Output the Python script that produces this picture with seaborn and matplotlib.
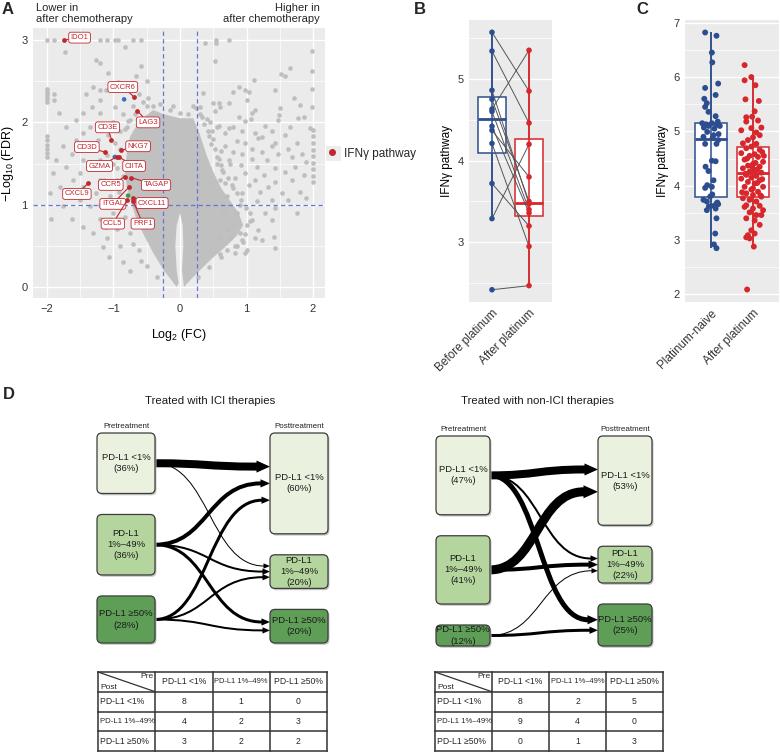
import matplotlib

matplotlib.use("Agg")
import matplotlib.pyplot as plt
import numpy as np
import pandas as pd
import seaborn as sns
from matplotlib.lines import Line2D
from matplotlib.patches import FancyBboxPatch, PathPatch, Polygon, Rectangle
from matplotlib.path import Path

# -----------------------------
# Panel A: volcano plot
# -----------------------------
# sparse grey genes, (log2 FC, -log10 FDR)
bg_left = [
    (-2.00, 3.00), (-1.90, 3.00), (-1.21, 3.00), (-1.10, 3.00), (-0.98, 3.00), (-0.93, 3.00),
    (-0.70, 3.00), (-0.58, 3.00), (-1.73, 2.86), (-0.83, 2.92), (-1.27, 2.76), (-1.21, 2.72),
    (-0.58, 2.68), (-1.08, 2.60), (-0.66, 2.56), (-0.93, 2.49), (-1.31, 2.43), (-1.21, 2.39),
    (-1.11, 2.39), (-1.89, 2.35), (-1.41, 2.35), (-1.90, 2.27), (-1.21, 2.27), (-0.98, 2.19),
    (-1.33, 2.19), (-1.82, 2.11), (-1.21, 2.11), (-1.46, 2.11), (-1.56, 2.03), (-0.75, 2.03),
    (-1.71, 1.95), (-1.36, 1.95), (-1.46, 1.87), (-1.56, 1.79), (-1.23, 1.79), (-1.76, 1.71),
    (-1.36, 1.71), (-1.63, 1.62), (-1.86, 1.54), (-1.46, 1.54), (-1.21, 1.54), (-1.71, 1.46),
    (-1.31, 1.46), (-1.91, 1.38), (-1.51, 1.38), (-1.61, 1.30), (-1.21, 1.30), (-1.81, 1.22),
    (-1.46, 1.22), (-1.96, 1.14), (-1.66, 1.14), (-1.26, 1.14), (-1.51, 1.06), (-1.76, 0.98),
    (-1.36, 0.98), (-1.94, 0.83), (-1.63, 0.83), (-1.21, 0.83), (-1.46, 0.73), (-1.11, 0.73),
    (-1.31, 0.65), (-1.16, 0.49), (-1.06, 0.37),
    (-2.00, 2.25), (-2.00, 2.28), (-2.00, 2.31), (-2.00, 2.34), (-2.00, 2.37), (-2.00, 2.40),
    (-2.00, 1.58), (-2.00, 1.63), (-2.00, 1.68), (-2.00, 1.73), (-2.00, 1.78), (-2.00, 1.83),
    (-0.90, 0.50), (-0.95, 0.70), (-1.00, 0.90), (-1.05, 1.10), (-0.95, 1.30), (-1.00, 1.50),
    (-0.90, 1.90), (-1.10, 1.60), (-1.15, 1.30), (-0.85, 2.10), (-0.70, 2.20), (-0.55, 2.25),
    (-1.00, 2.00), (-1.20, 1.00), (-0.85, 0.30), (-0.75, 0.20), (-1.10, 0.60), (-0.92, 1.15),
    (-0.88, 0.80), (-0.98, 1.75), (-1.08, 1.85), (-0.80, 1.95), (-0.62, 2.35), (-0.48, 2.30),
    (-0.40, 2.20), (-0.78, 2.45), (-0.50, 2.50),
    (-0.15, 2.15), (0.00, 2.12), (0.12, 2.10), (0.20, 2.20),
    # scattered genes along the rim of the dense cloud
    (-0.35, 0.12), (-0.50, 0.25), (-0.62, 0.45), (-0.75, 0.65), (-0.82, 0.85), (-0.88, 0.98),
    (-0.92, 1.22), (-0.95, 1.45), (-0.90, 1.68), (-0.82, 1.92), (-0.68, 2.10), (-0.50, 2.20),
    (-0.30, 2.22), (-0.10, 2.20), (-0.58, 0.32), (-0.70, 0.52), (-0.86, 1.35), (-0.78, 2.02),
]
bg_right = [
    (0.38, 2.97), (0.54, 3.00), (0.54, 2.97), (0.73, 3.00), (0.53, 2.74), (1.99, 2.87),
    (1.66, 2.66), (1.52, 2.59), (1.58, 2.56), (1.99, 2.63), (1.12, 2.51), (0.88, 2.43),
    (0.98, 2.39), (1.03, 2.37), (0.35, 2.36), (1.43, 2.39), (1.99, 2.41), (1.71, 2.30),
    (0.80, 2.37), (1.01, 2.27), (0.49, 2.23), (0.58, 2.24), (0.60, 2.19), (0.73, 2.24),
    (0.24, 2.18), (0.30, 2.19), (1.99, 2.19), (1.51, 2.18), (1.13, 2.15), (1.81, 2.21),
    (0.53, 2.14), (1.08, 2.11), (0.88, 2.07), (0.33, 2.07), (0.40, 2.04), (1.86, 2.07),
    (1.06, 2.04), (1.78, 2.05), (1.49, 2.09), (0.98, 2.02), (1.48, 2.03), (0.58, 1.96),
    (0.80, 1.95), (0.73, 1.93), (1.28, 1.96), (1.66, 1.95), (1.96, 1.93), (0.48, 1.89),
    (0.68, 1.87), (0.93, 1.89), (1.13, 1.87), (1.38, 1.89), (1.58, 1.85), (1.18, 1.81),
    (1.23, 1.82), (0.43, 1.83), (0.85, 1.77), (0.98, 1.75), (1.43, 1.75), (1.76, 1.75),
    (0.68, 1.71), (1.08, 1.68), (1.38, 1.71), (1.63, 1.68), (0.80, 1.64), (0.93, 1.62),
    (1.23, 1.64), (1.48, 1.62), (1.83, 1.62), (0.55, 1.58), (0.73, 1.54), (1.08, 1.56),
    (1.31, 1.54), (1.68, 1.58), (1.89, 1.52), (0.91, 1.48), (1.16, 1.46), (1.43, 1.44),
    (1.73, 1.46), (0.63, 1.42), (0.98, 1.38), (1.26, 1.36), (1.58, 1.40), (1.86, 1.36),
    (0.83, 1.32), (1.13, 1.30), (1.43, 1.28), (1.68, 1.30), (0.68, 1.26), (1.03, 1.24),
    (1.33, 1.22), (1.21, 1.16), (1.53, 1.14), (0.93, 1.14), (1.81, 1.16), (1.38, 1.06),
    (1.16, 1.04), (1.63, 1.06), (1.89, 1.08), (1.43, 0.96), (1.76, 0.90), (1.28, 0.90),
    (1.08, 0.81), (1.38, 0.81), (1.18, 0.69), (1.41, 0.61), (1.43, 0.47), (1.01, 0.45),
    (0.93, 0.57), (1.13, 0.59), (1.23, 0.57), (0.98, 0.41), (0.83, 0.41),
    (2.00, 1.27), (2.00, 1.35), (2.00, 1.43), (2.00, 1.51), (2.00, 1.59), (2.00, 1.67),
    (2.00, 1.75), (2.00, 1.83), (2.00, 1.91),
    (0.60, 0.60), (0.70, 0.70), (0.75, 0.60), (0.80, 0.75), (0.65, 0.90), (0.85, 0.90),
    (0.90, 1.00), (0.70, 1.10), (0.80, 1.20), (0.60, 1.30), (0.90, 0.65), (0.55, 1.50),
    (0.62, 1.65), (0.50, 1.80), (0.45, 2.00), (0.55, 1.95), (0.65, 1.40), (0.75, 1.50),
    (0.85, 0.50), (0.95, 0.55), (1.00, 0.75), (1.05, 0.90), (0.70, 0.45), (0.60, 0.40),
    # scattered genes along the rim of the dense cloud
    (0.30, 2.10), (0.42, 1.90), (0.52, 1.68), (0.62, 1.48), (0.72, 1.32), (0.86, 1.14),
    (0.99, 0.96), (1.05, 0.80), (0.97, 0.64), (0.82, 0.50), (0.62, 0.36), (0.44, 0.24),
    (0.27, 0.12), (0.36, 1.98), (0.46, 1.74), (0.58, 1.56), (0.78, 1.24), (0.92, 1.06),
]
# outline of the solid, over-plotted cloud of genes around the origin
dense_fc = [-0.02, -0.05, -0.25, -0.40, -0.53, -0.65, -0.73, -0.80, -0.83, -0.80, -0.75, -0.60,
            -0.40, -0.25, 0.00, 0.20, 0.30, 0.40, 0.50, 0.62, 0.75, 0.88, 0.95, 0.85, 0.70,
            0.50, 0.32, 0.15, 0.06, 0.03, 0.05, 0.04, 0.00, -0.05, -0.07, -0.05]
dense_nl = [0.05, 0.00, 0.21, 0.41, 0.61, 0.81, 1.02, 1.22, 1.42, 1.62, 1.83, 2.03,
            2.15, 2.10, 2.05, 2.05, 1.85, 1.60, 1.40, 1.20, 1.05, 0.90, 0.75, 0.62, 0.50,
            0.36, 0.22, 0.08, 0.00, 0.20, 0.50, 0.75, 0.90, 0.75, 0.50, 0.20]

genes = ["IDO1", "CXCR6", "LAG3", "CD3E", "CD3D", "NKG7", "GZMA", "CIITA",
         "CCR5", "TAGAP", "CXCL9", "ITGAL", "CXCL11", "CCL5", "PRF1"]
gene_fc = [-1.74, -0.69, -0.64, -1.03, -1.13, -0.89, -0.95, -0.92,
           -0.83, -0.74, -1.38, -0.76, -0.70, -0.79, -0.71]
gene_nl = [3.00, 2.31, 2.14, 1.79, 1.64, 1.66, 1.58, 1.58,
           1.34, 1.33, 1.26, 1.22, 1.08, 1.06, 1.05]
other_fc = [-0.84, -0.98, -0.78]
other_nl = [2.28, 1.58, 1.11]

# -----------------------------
# Panel B: paired samples
# -----------------------------
b_cats = ["Before platinum", "After platinum"]
b_before = [5.57, 5.34, 4.86, 4.75, 4.63, 4.60, 4.42, 4.37, 4.21, 3.72, 3.29, 2.42]
b_after = [4.85, 4.46, 3.47, 3.50, 5.35, 3.40, 3.36, 3.80, 2.95, 3.20, 4.20, 2.47]

# -----------------------------
# Panel C: unpaired samples (value, horizontal jitter)
# -----------------------------
c_cats = ["Platinum-naive", "After platinum"]
c_naive = [
    (6.82, -0.14), (6.76, 0.13), (6.45, 0.02), (6.27, 0.03), (5.88, 0.17), (5.80, -0.14),
    (5.67, 0.11), (5.60, -0.16), (5.52, -0.10), (5.45, -0.14), (5.36, -0.06), (5.28, 0.11),
    (5.15, -0.21), (5.15, 0.02), (5.12, 0.13), (5.10, -0.06), (5.07, -0.17), (5.10, 0.21),
    (5.18, 0.16), (5.13, -0.12), (5.05, 0.08), (4.99, -0.09), (4.95, 0.18), (4.93, 0.06),
    (4.90, -0.18), (4.88, 0.04), (4.84, 0.17), (4.77, -0.14), (4.77, 0.13), (4.46, 0.02),
    (4.45, 0.11), (4.35, -0.13), (4.27, -0.06), (4.10, 0.06), (4.01, -0.09), (3.98, 0.02),
    (3.96, -0.14), (3.84, 0.03), (3.80, -0.02), (3.74, -0.18), (3.71, -0.10), (3.69, 0.15),
    (3.67, 0.13), (3.66, 0.17), (3.63, 0.07), (3.62, -0.05), (3.58, 0.11), (3.55, -0.10),
    (3.40, 0.13), (3.12, 0.10), (2.92, 0.07), (2.85, 0.13),
]
c_after = [
    (6.22, -0.20), (6.00, -0.04), (5.94, -0.20), (5.85, 0.06), (5.59, -0.18), (5.56, 0.14),
    (5.37, 0.04), (5.27, -0.02), (5.26, -0.16), (5.20, 0.12), (5.18, -0.16), (5.07, 0.20),
    (5.06, -0.04), (5.02, -0.28), (4.98, 0.08), (4.93, 0.16), (4.89, 0.00), (4.84, -0.12),
    (4.78, -0.24), (4.77, 0.08), (4.72, -0.04), (4.69, -0.16), (4.66, 0.16), (4.62, 0.22),
    (4.60, -0.28), (4.58, 0.04), (4.55, -0.08), (4.55, 0.26), (4.53, 0.12), (4.50, -0.14),
    (4.48, -0.20), (4.44, 0.24), (4.42, 0.06), (4.40, 0.00), (4.37, -0.12), (4.35, 0.16),
    (4.35, -0.02), (4.32, -0.24), (4.30, 0.10), (4.29, 0.04), (4.26, -0.08), (4.24, 0.20),
    (4.22, -0.18), (4.20, -0.16), (4.18, 0.08), (4.15, -0.04), (4.13, -0.28), (4.12, 0.22),
    (4.10, 0.16), (4.07, -0.12), (4.05, 0.10), (4.04, 0.04), (3.98, -0.20), (3.98, 0.24),
    (3.95, 0.00), (3.93, -0.04), (3.89, 0.12), (3.88, -0.26), (3.86, -0.16), (3.83, 0.00),
    (3.82, 0.18), (3.80, 0.20), (3.77, -0.24), (3.74, -0.08), (3.71, 0.08), (3.64, -0.16),
    (3.63, 0.16), (3.61, -0.20), (3.58, 0.00), (3.55, 0.24), (3.51, -0.08), (3.46, 0.08),
    (3.46, 0.20), (3.40, -0.16), (3.36, 0.04), (3.28, 0.16), (3.18, -0.04), (3.12, 0.04),
    (3.09, -0.12), (3.05, -0.16), (3.03, -0.08), (2.88, 0.02), (2.09, -0.14),
]

# -----------------------------
# Panel D: PD-L1 transitions (rows as printed in the tables)
# -----------------------------
pdl1_levels = ["PD-L1 <1%", "PD-L1 1%\u201349%", "PD-L1 \u226550%"]
pdl1_box_labels = ["PD-L1 <1%", "PD-L1\n1%\u201349%", "PD-L1 \u226550%"]
ici_counts = [[8, 1, 0], [4, 2, 3], [3, 2, 2]]
nonici_counts = [[8, 2, 5], [9, 4, 0], [0, 1, 3]]

# -----------------------------
# Style
# -----------------------------
GREY = "#BEBEBE"
GENE_RED = "#C0282D"
BLUE = "#2C4E8F"
RED = "#D7262C"
BOX_COLORS = ["#EBF1DF", "#B5D59F", "#5E9E56"]
INK = "#333333"
W, H = 780, 752

sns.set_theme(
    style="darkgrid",
    rc={
        "axes.facecolor": "#EBEBEB",
        "axes.edgecolor": "#EBEBEB",
        "grid.color": "white",
        "grid.linewidth": 1.0,
        "xtick.major.size": 2.5,
        "ytick.major.size": 2.5,
        "xtick.color": INK,
        "ytick.color": INK,
        "axes.labelcolor": "black",
    },
)
plt.rcParams["font.family"] = ["Liberation Sans", "DejaVu Sans"]
plt.rcParams["mathtext.fontset"] = "custom"
plt.rcParams["mathtext.rm"] = "Liberation Sans"
plt.rcParams["mathtext.it"] = "Liberation Sans:italic"

fig = plt.figure(figsize=(W / 100, H / 100), dpi=100)


def px_axes(left, top, right, bottom, **kw):
    return fig.add_axes([left / W, 1 - bottom / H, (right - left) / W, (bottom - top) / H], **kw)


def gg_axes(ax, labelsize=8):
    for s in ax.spines.values():
        s.set_visible(False)
    ax.tick_params(which="major", labelsize=labelsize, length=2.5, width=0.6, pad=1.5, colors=INK)
    ax.tick_params(which="minor", length=0)
    ax.grid(which="minor", color="white", linewidth=0.5)
    ax.set_axisbelow(True)


# -----------------------------
# A
# -----------------------------
axA = px_axes(33, 28, 325, 298)
axA.fill(dense_fc, dense_nl, color="#C0C0C0", lw=0, zorder=1.5)
bl_fc, bl_nl = zip(*bg_left)
br_fc, br_nl = zip(*bg_right)
sns.scatterplot(x=list(bl_fc) + list(br_fc), y=list(bl_nl) + list(br_nl), color=GREY,
                s=11, linewidth=0, ax=axA, zorder=2)
for v in (-0.25, 0.25):
    axA.axvline(v, color="#6675D8", ls=(0, (3.5, 2.5)), lw=0.9, zorder=3)
axA.axhline(1, color="#6675D8", ls=(0, (3.5, 2.5)), lw=0.9, zorder=3)
sns.scatterplot(x=other_fc, y=other_nl, hue=["a", "a", "b"], palette={"a": "#3A6FC4", "b": "#3E9A4A"},
                s=11, linewidth=0, legend=False, ax=axA, zorder=4)
sns.scatterplot(x=gene_fc, y=gene_nl, color=GENE_RED, s=12, linewidth=0, ax=axA, zorder=5)

label_xy = {
    "IDO1": (-1.51, 3.03), "CXCR6": (-0.86, 2.43), "LAG3": (-0.48, 2.00), "CD3E": (-1.09, 1.94),
    "CD3D": (-1.40, 1.70), "NKG7": (-0.63, 1.71), "GZMA": (-1.21, 1.47), "CIITA": (-0.69, 1.47),
    "CCR5": (-1.04, 1.24), "TAGAP": (-0.36, 1.24), "CXCL9": (-1.55, 1.13), "ITGAL": (-1.01, 1.01),
    "CXCL11": (-0.42, 1.02), "CCL5": (-1.01, 0.77), "PRF1": (-0.56, 0.77),
}
for g, fc, nl in zip(genes, gene_fc, gene_nl):
    axA.annotate(
        g, xy=(fc, nl), xytext=label_xy[g], textcoords="data", ha="center", va="center",
        fontsize=5.5, color=GENE_RED, zorder=6,
        bbox=dict(boxstyle="round,pad=0.25,rounding_size=0.3", fc="white", ec=GENE_RED, lw=0.6),
        arrowprops=dict(arrowstyle="-", color=GENE_RED, lw=0.8, shrinkA=0, shrinkB=1),
    )

axA.set_xlim(-2.21, 2.18)
axA.set_ylim(-0.134, 3.147)
axA.set_xticks([-2, -1, 0, 1, 2])
axA.set_xticks([-1.5, -0.5, 0.5, 1.5], minor=True)
axA.set_yticks([0, 1, 2, 3])
axA.set_yticks([0.5, 1.5, 2.5], minor=True)
gg_axes(axA)
axA.set_xlabel("Log$_2$ (FC)", fontsize=9, labelpad=10)
axA.set_ylabel("\u2212Log$_{10}$ (FDR)", fontsize=9, labelpad=4)

fig.text(36 / W, 1 - 3 / H, "Lower in\nafter chemotherapy", ha="left", va="top", fontsize=8, linespacing=1.15)
fig.text(320 / W, 1 - 3 / H, "Higher in\nafter chemotherapy", ha="right", va="top", fontsize=8,
         linespacing=1.15, multialignment="right")

fig.patches.append(Rectangle((326 / W, 1 - 161 / H), 15 / W, 15 / H, transform=fig.transFigure,
                             fc="#EDEDED", ec="none", zorder=1))
fig.legend(handles=[Line2D([0], [0], marker="o", ls="", color=GENE_RED, markersize=4)],
           labels=["IFN\u03b3 pathway"], loc="center left", bbox_to_anchor=(325 / W, 1 - 153.5 / H),
           frameon=False, fontsize=8.5, handlelength=1.2, handletextpad=0.4, borderaxespad=0,
           borderpad=0)


def whisker_range(values):
    v = np.asarray(values)
    q1, q3 = np.percentile(v, [25, 75])
    iqr = q3 - q1
    return v[v >= q1 - 1.5 * iqr].min(), v[v <= q3 + 1.5 * iqr].max()


def draw_boxes(ax, df, cats, colors):
    for cat, col in zip(cats, colors):
        sns.boxplot(data=df[df.group == cat], x="group", y="value", order=cats, color="white",
                    linecolor=col, linewidth=1.1, width=0.78, showcaps=False, showfliers=False,
                    medianprops={"linewidth": 2.0}, ax=ax, zorder=2)
        lo, hi = whisker_range(df.loc[df.group == cat, "value"])
        ax.vlines(cats.index(cat), lo, hi, color=col, lw=1.1, zorder=2.5)


# -----------------------------
# B
# -----------------------------
axB = px_axes(469, 20, 552, 302)
b_df = pd.DataFrame({"group": [b_cats[0]] * len(b_before) + [b_cats[1]] * len(b_after),
                     "value": b_before + b_after})
draw_boxes(axB, b_df, b_cats, [BLUE, RED])
for bv, av in zip(b_before, b_after):
    axB.plot([0, 1], [bv, av], color="#555555", lw=0.7, zorder=3)
sns.stripplot(data=b_df, x="group", y="value", order=b_cats, hue="group", hue_order=b_cats,
              palette=[BLUE, RED], jitter=False, size=4, linewidth=0, legend=False, ax=axB, zorder=4)
axB.set_xlim(-0.62, 1.62)
axB.set_ylim(2.27, 5.72)
axB.set_yticks([3, 4, 5])
axB.set_yticks([2.5, 3.5, 4.5, 5.5], minor=True)
gg_axes(axB)
axB.set_xticks([0, 1])
axB.set_xticklabels(b_cats, rotation=45, ha="right", rotation_mode="anchor", fontsize=8.5)
axB.set_xlabel("")
axB.set_ylabel("IFN\u03b3 pathway", fontsize=8.5, labelpad=3)

# -----------------------------
# C
# -----------------------------
axC = px_axes(685, 20, 779, 302)
cn_v, cn_j = zip(*c_naive)
ca_v, ca_j = zip(*c_after)
c_df = pd.DataFrame({"group": [c_cats[0]] * len(cn_v) + [c_cats[1]] * len(ca_v),
                     "value": list(cn_v) + list(ca_v),
                     "pos": [0 + j for j in cn_j] + [1 + j for j in ca_j]})
draw_boxes(axC, c_df, c_cats, [BLUE, RED])
sns.scatterplot(data=c_df, x="pos", y="value", hue="group", hue_order=c_cats, palette=[BLUE, RED],
                s=18, linewidth=0, legend=False, ax=axC, zorder=4)
axC.set_xlim(-0.62, 1.62)
axC.set_ylim(1.86, 7.05)
axC.set_yticks([2, 3, 4, 5, 6, 7])
axC.set_yticks([2.5, 3.5, 4.5, 5.5, 6.5], minor=True)
gg_axes(axC)
axC.set_xticks([0, 1])
axC.set_xticklabels(c_cats, rotation=45, ha="right", rotation_mode="anchor", fontsize=8.5)
axC.set_xlabel("")
axC.set_ylabel("IFN\u03b3 pathway", fontsize=8.5, labelpad=3)

for letter, x, y in [("A", 2, 2), ("B", 414, 2), ("C", 636, 2), ("D", 3, 387)]:
    fig.text(x / W, 1 - y / H, letter, ha="left", va="top", fontsize=12, fontweight="bold")

# -----------------------------
# D: flow diagrams and tables, drawn in a pixel-space overlay
# -----------------------------
axD = fig.add_axes([0, 0, 1, 1], zorder=-1)
axD.set_xlim(0, W)
axD.set_ylim(H, 0)
axD.axis("off")

PX_PER_PCT = 1.68
GAP = 21


def stack_boxes(pcts, top):
    out, y = [], top
    for p in pcts:
        h = p * PX_PER_PCT
        out.append((y, h))
        y += h + GAP
    return out


def draw_box(ax, x, y, w, h, color, text):
    style = "round,pad=0,rounding_size=5"
    ax.add_patch(FancyBboxPatch((x + 1.5, y + 1.8), w, h, boxstyle=style, fc="#C4C4C4", ec="none", zorder=2))
    ax.add_patch(FancyBboxPatch((x, y), w, h, boxstyle=style, fc=color, ec="#3C3C3C", lw=0.9, zorder=3))
    ax.text(x + w / 2, y + h / 2, text, ha="center", va="center", fontsize=6.8, linespacing=1.3,
            color="#1A1A1A", zorder=4)


def draw_flow(ax, x0, y0, x1, y1, count):
    head_len = 5 + count
    head_w = 2.2 + 0.48 * count
    xe = x1 - head_len
    d = (xe - x0) * 0.5
    path = Path([(x0, y0), (x0 + d, y0), (xe - d, y1), (xe, y1)],
                [Path.MOVETO, Path.CURVE4, Path.CURVE4, Path.CURVE4])
    ax.add_patch(PathPatch(path, fc="none", ec="black", lw=count * 0.72, capstyle="butt", zorder=1))
    ax.add_patch(Polygon([(x1, y1), (xe - 0.5, y1 - head_w), (xe - 0.5, y1 + head_w)], closed=True,
                         fc="black", ec="none", zorder=1))


def draw_diagram(ax, counts, x_pre, x_post, box_w, top, title, title_x):
    counts = np.asarray(counts)
    total = counts.sum()
    pre_pct = counts.sum(axis=1) / total * 100
    post_pct = counts.sum(axis=0) / total * 100
    pre_boxes = stack_boxes(pre_pct, top)
    post_boxes = stack_boxes(post_pct, top)
    for j, (py, ph) in enumerate(post_boxes):
        srcs = [i for i in range(len(counts)) if counts[i, j] > 0]
        for k, i in enumerate(srcs):
            frac = 0.5 + (k - (len(srcs) - 1) / 2) * 0.5 / len(srcs)
            sy, sh = pre_boxes[i]
            draw_flow(ax, x_pre + box_w, sy + sh / 2, x_post, py + ph * frac, counts[i, j])
    for i, ((y, h), p) in enumerate(zip(pre_boxes, pre_pct)):
        draw_box(ax, x_pre, y, box_w, h, BOX_COLORS[i], f"{pdl1_box_labels[i]}\n({round(p)}%)")
    for j, ((y, h), p) in enumerate(zip(post_boxes, post_pct)):
        draw_box(ax, x_post, y, box_w, h, BOX_COLORS[j], f"{pdl1_box_labels[j]}\n({round(p)}%)")
    ax.text(x_pre + box_w / 2, top - 3, "Pretreatment", ha="center", va="bottom", fontsize=5.8, color="#222222")
    ax.text(x_post + box_w / 2, top - 3, "Posttreatment", ha="center", va="bottom", fontsize=5.8, color="#222222")
    ax.text(title_x, 401, title, ha="center", va="center", fontsize=8.2, color="#1A1A1A")


def draw_table(ax, counts, left, top, width=229, height=79):
    cw, rh = width / 4, height / 4
    xs = left + cw * np.arange(5)
    ys = top + rh * np.arange(5)
    for x in xs:
        ax.plot([x, x], [ys[0], ys[-1]], color="#333333", lw=1.1, solid_capstyle="projecting")
    for y in ys:
        ax.plot([xs[0], xs[-1]], [y, y], color="#333333", lw=1.1, solid_capstyle="projecting")
    ax.plot([xs[0], xs[1]], [ys[0], ys[1]], color="#333333", lw=0.9)
    ax.text(xs[1] - 2, ys[0] + 1.5, "Pre", ha="right", va="top", fontsize=6)
    ax.text(xs[0] + 2, ys[1] - 1, "Post", ha="left", va="bottom", fontsize=6)
    sizes = [6.2, 5.4, 6.2]
    for j, lev in enumerate(pdl1_levels):
        ax.text((xs[j + 1] + xs[j + 2]) / 2, (ys[0] + ys[1]) / 2, lev, ha="center", va="center",
                fontsize=sizes[j])
    for i, lev in enumerate(pdl1_levels):
        yc = (ys[i + 1] + ys[i + 2]) / 2
        ax.text(xs[0] + 2, yc, lev, ha="left", va="center", fontsize=sizes[i] + (0.2 if i == 1 else 0))
        for j in range(3):
            ax.text((xs[j + 1] + xs[j + 2]) / 2, yc, str(counts[i][j]), ha="center", va="center", fontsize=6.2)


draw_diagram(axD, ici_counts, 97, 270, 58, 433, "Treated with ICI therapies", 210)
draw_diagram(axD, nonici_counts, 436, 598, 54, 436, "Treated with non-ICI therapies", 537)
draw_table(axD, ici_counts, 98, 672)
draw_table(axD, nonici_counts, 435, 672, width=228)

fig.savefig("out.png", dpi=100)
plt.close(fig)
